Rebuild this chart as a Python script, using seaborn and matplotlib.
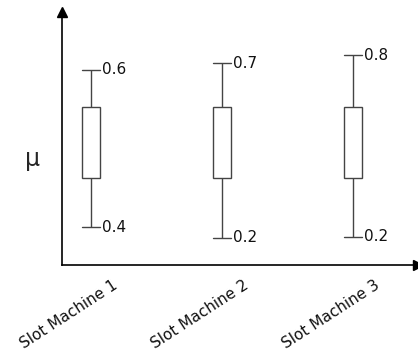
import pandas as pd
import numpy as np
import matplotlib
matplotlib.use('Agg')
import matplotlib.pyplot as plt
import matplotlib.transforms as mtransforms
import seaborn as sns

sns.set_style('white')
plt.rcParams['font.family'] = ['DejaVu Sans']

# schematic positions (axis runs 0..1)
machines = ["Slot Machine 1", "Slot Machine 2", "Slot Machine 3"]
whisker_low = [0.150, 0.107, 0.111]
box_low = [0.344, 0.344, 0.344]
box_high = [0.625, 0.625, 0.625]
whisker_high = [0.771, 0.798, 0.830]
high_labels = ["0.6", "0.7", "0.8"]
low_labels = ["0.4", "0.2", "0.2"]

rows = []
for m, lo, q1, q3, hi in zip(machines, whisker_low, box_low, box_high, whisker_high):
    for v in [lo, q1, q1, q3, hi]:
        rows.append({"machine": m, "pos": v})
df = pd.DataFrame(rows)

fig = plt.figure(figsize=(4.18, 3.52), dpi=100)
ax = fig.add_axes([62 / 418, 87 / 352, 356 / 418, 253 / 352])

line_col = '#444444'
box_w = 0.14
sns.boxplot(x="machine", y="pos", data=df, ax=ax, whis=(0, 100), width=box_w,
            color='white', linecolor=line_col, linewidth=1.0, fill=True,
            medianprops={'visible': False}, showfliers=False)

# caps as wide as the boxes
for cont in ax.containers:
    for cap in getattr(cont, 'caps', []):
        xd = np.asarray(cap.get_xdata(), dtype=float)
        c = xd.mean()
        cap.set_xdata([c - box_w / 2, c + box_w / 2])

ax.set_xlim(-0.221, 2.496)
ax.set_ylim(0, 1)

# value labels at whisker ends
for i in range(len(machines)):
    ax.annotate(high_labels[i], (i + box_w / 2, whisker_high[i]), xytext=(1.5, 0),
                textcoords='offset points', ha='left', va='center', fontsize=11, color='#111111')
    ax.annotate(low_labels[i], (i + box_w / 2, whisker_low[i]), xytext=(1.5, 0),
                textcoords='offset points', ha='left', va='center', fontsize=11, color='#111111')

for s in ['top', 'right']:
    ax.spines[s].set_visible(False)
for s in ['left', 'bottom']:
    ax.spines[s].set_color('black')
    ax.spines[s].set_linewidth(1.2)

# arrow heads
ax.plot(0, 1, '^k', ms=7, transform=ax.transAxes, clip_on=False)
ax.plot(1, 0, '>k', ms=7, transform=ax.transAxes, clip_on=False)

ax.set_yticks([])
ax.set_ylabel('')
ax.text(-0.083, 0.42, 'μ', transform=ax.transAxes, fontsize=17, ha='center', va='center')
ax.set_xlabel('')
ax.tick_params(axis='x', length=0, pad=9)
ax.set_xticks(range(len(machines)))
ax.set_xticklabels(machines, rotation=33, ha='right', rotation_mode='anchor', fontsize=11,
                   color='#111111')
offset = mtransforms.ScaledTranslation(0.215, 0, fig.dpi_scale_trans)
for lab in ax.get_xticklabels():
    lab.set_transform(lab.get_transform() + offset)

fig.savefig('out.png', dpi=100)
